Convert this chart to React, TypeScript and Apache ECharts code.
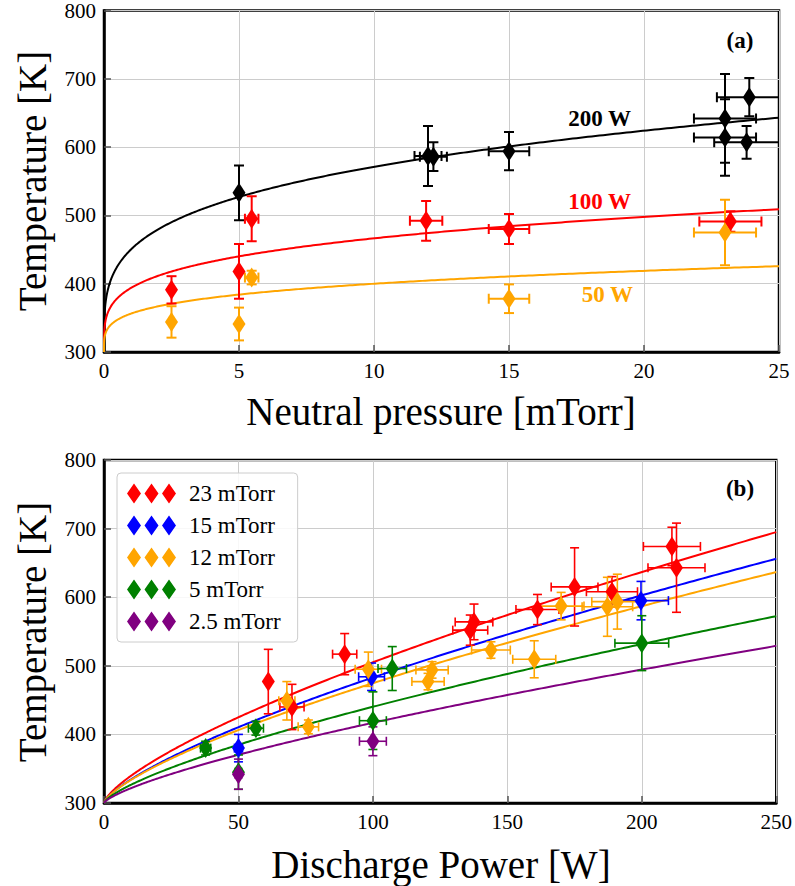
import React, { useEffect, useRef } from "react";
import * as echarts from "echarts";

// ---------- Panel (a): temperature vs neutral pressure ----------
const p200 = [5, 12.0, 12.2, 15, 23, 23, 23.9, 23.8];
const t200 = [533, 587, 586, 594, 642, 614, 673, 607];
const p200Err = [0, 0.5, 0.5, 0.75, 1.15, 1.15, 1.2, 1.2];
const t200Err = [40, 44, 21, 28, 65, 56, 28, 24];

const p100 = [2.5, 5, 5.47, 11.93, 15, 23.2];
const t100 = [391, 418, 495, 492, 480, 491];
const p100Err = [0, 0, 0.25, 0.6, 0.75, 1.15];
const t100Err = [20, 40, 33, 29, 22, 15];

const p50 = [2.5, 5, 5.47, 15, 23];
const t50 = [344, 341, 409, 378, 475];
const p50Err = [0, 0, 0.25, 0.75, 1.15];
const t50Err = [23, 24, 10, 21, 48];

// fit T = 300 + a * p^b
const fitA_a = [150.2, 93.8, 56.2];
const fitB_a = [0.2566, 0.249, 0.25];
const powerLabels = ["200 W", "100 W", "50 W"];
const powerColors = ["#000000", "#ff0000", "#ffa500"];

// ---------- Panel (b): temperature vs discharge power ----------
const pressureNames = ["23 mTorr", "15 mTorr", "12 mTorr", "5 mTorr", "2.5 mTorr"];
const pressureColors = ["#ff0000", "#0000ff", "#ffa500", "#008000", "#800080"];

const w23 = [61.1, 69.9, 89.5, 136.2, 137.6, 161.2, 175, 188.9, 211.2, 212.9];
const T23 = [477, 440, 517, 552, 564, 582, 615, 608, 674, 643];
const w23Err = [0, 4.5, 4.5, 6.5, 7, 8, 8.7, 9.5, 10.6, 10.6];
const T23Err = [47, 33, 30, 22, 26, 22, 57, 22, 28, 65];

const w15 = [50, 99.5, 199.7];
const T15 = [380, 484, 595];
const w15Err = [1.5, 4.8, 10.2];
const T15Err = [20, 20, 28];

const w12 = [68, 76, 98.3, 122, 120.5, 143.9, 160, 170, 187.2, 190.9];
const T12 = [449, 411, 495, 494, 477, 523, 509.5, 587, 586, 593.5];
const w12Err = [3, 3.8, 4.9, 6, 6, 7.2, 8, 8.5, 9.4, 9.5];
const T12Err = [28, 10, 25, 12, 12, 12, 27, 20, 43, 40];

const w5 = [37.8, 50, 56.5, 100, 107.2, 200];
const T5 = [380, 345, 409, 420, 496, 533];
const w5Err = [1.9, 1.2, 2.8, 5, 5.3, 10];
const T5Err = [10, 25, 10, 42, 32, 40];

const w25 = [50, 100];
const T25 = [342, 390];
const w25Err = [1.2, 5];
const T25Err = [22, 21];

const fitA_b = [7.62, 6.43, 6.46, 5.0, 3.98];
const fitB_b = [0.715, 0.727, 0.716, 0.724, 0.734];

const FONT = "'Liberation Serif', serif";

function fitCurve(a: number, b: number, xmax: number) {
  const pts: number[][] = [];
  const N = 300;
  for (let i = 0; i <= N; i++) {
    const x = xmax * Math.pow(i / N, 2);
    pts.push([x, 300 + a * Math.pow(x, b)]);
  }
  return pts;
}

function errRender(color: string, lw: number, cap: number) {
  return (params: any, api: any) => {
    const x = api.value(0);
    const y = api.value(1);
    const xe = api.value(2);
    const ye = api.value(3);
    const style = { stroke: color, lineWidth: lw, fill: null };
    const children: any[] = [];
    if (ye > 0) {
      const t = api.coord([x, y + ye]);
      const b = api.coord([x, y - ye]);
      children.push({ type: "line", shape: { x1: t[0], y1: t[1], x2: b[0], y2: b[1] }, style });
      children.push({ type: "line", shape: { x1: t[0] - cap, y1: t[1], x2: t[0] + cap, y2: t[1] }, style });
      children.push({ type: "line", shape: { x1: b[0] - cap, y1: b[1], x2: b[0] + cap, y2: b[1] }, style });
    }
    if (xe > 0) {
      const l = api.coord([x - xe, y]);
      const r = api.coord([x + xe, y]);
      children.push({ type: "line", shape: { x1: l[0], y1: l[1], x2: r[0], y2: r[1] }, style });
      children.push({ type: "line", shape: { x1: l[0], y1: l[1] - cap, x2: l[0], y2: l[1] + cap }, style });
      children.push({ type: "line", shape: { x1: r[0], y1: r[1] - cap, x2: r[0], y2: r[1] + cap }, style });
    }
    return { type: "group", children };
  };
}

function pack(xs: number[], ys: number[], xe: number[], ye: number[]) {
  return xs.map((x, i) => [x, ys[i], xe[i], ye[i]]);
}

const legendIcon =
  "path://M7,0L14,10L7,20L0,10Z M24.5,0L31.5,10L24.5,20L17.5,10Z M42,0L49,10L42,20L35,10Z";

function txt(text: string, x: number, y: number, size: number, color: string, align: string, bold = false, rotation = 0) {
  return {
    type: "text",
    x,
    y,
    rotation,
    style: {
      text,
      fontFamily: FONT,
      fontSize: size,
      fontWeight: bold ? "bold" : "normal",
      fill: color,
      align,
      verticalAlign: "middle",
      textAlign: align,
      textVerticalAlign: "middle",
    },
  };
}

export default function App() {
  const ref = useRef<HTMLDivElement>(null);
  useEffect(() => {
    if (!ref.current) return;
    const chart = echarts.init(ref.current, null, { renderer: "svg" });

    const axisCommon = {
      type: "value",
      axisLine: { show: true, onZero: false, lineStyle: { color: "#000", width: 2.5 } },
      axisTick: { show: true, inside: true, length: 7, lineStyle: { color: "#555", width: 1.5 } },
      axisLabel: { fontFamily: FONT, fontSize: 21, color: "#000", margin: 8 },
      splitLine: { show: true, lineStyle: { color: "#cccccc", width: 1 } },
    };

    const series: any[] = [];

    // Panel (a)
    const aSets = [
      [p200, t200, p200Err, t200Err],
      [p100, t100, p100Err, t100Err],
      [p50, t50, p50Err, t50Err],
    ];
    for (let k = 0; k < 3; k++) {
      series.push({
        type: "line",
        name: "fit-a-" + k,
        xAxisIndex: 0,
        yAxisIndex: 0,
        data: fitCurve(fitA_a[k], fitB_a[k], 25),
        showSymbol: false,
        symbol: "none",
        lineStyle: { color: powerColors[k], width: 2 },
        silent: true,
        z: 2,
      });
    }
    for (let k = 0; k < 3; k++) {
      const [xs, ys, xe, ye] = aSets[k];
      series.push({
        type: "custom",
        name: "err-a-" + k,
        xAxisIndex: 0,
        yAxisIndex: 0,
        clip: true,
        renderItem: errRender(powerColors[k], 2, 5),
        data: pack(xs, ys, xe, ye),
        encode: { x: 0, y: 1 },
        z: 3,
      });
      series.push({
        type: "scatter",
        name: powerLabels[k],
        xAxisIndex: 0,
        yAxisIndex: 0,
        symbol: "diamond",
        symbolSize: [13, 20],
        itemStyle: { color: powerColors[k], opacity: 1 },
        data: xs.map((x, i) => [x, ys[i]]),
        z: 4,
      });
    }

    // Panel (b)
    const bSets = [
      [w23, T23, w23Err, T23Err],
      [w15, T15, w15Err, T15Err],
      [w12, T12, w12Err, T12Err],
      [w5, T5, w5Err, T5Err],
      [w25, T25, w25Err, T25Err],
    ];
    for (let k = 0; k < 5; k++) {
      series.push({
        type: "line",
        name: "fit-b-" + k,
        xAxisIndex: 1,
        yAxisIndex: 1,
        data: fitCurve(fitA_b[k], fitB_b[k], 250),
        showSymbol: false,
        symbol: "none",
        lineStyle: { color: pressureColors[k], width: 2 },
        silent: true,
        z: 2,
      });
    }
    for (let k = 0; k < 5; k++) {
      const [xs, ys, xe, ye] = bSets[k];
      series.push({
        type: "custom",
        name: "err-b-" + k,
        xAxisIndex: 1,
        yAxisIndex: 1,
        clip: true,
        renderItem: errRender(pressureColors[k], 1.6, 4.5),
        data: pack(xs, ys, xe, ye),
        encode: { x: 0, y: 1 },
        z: 3,
      });
      series.push({
        type: "scatter",
        name: pressureNames[k],
        xAxisIndex: 1,
        yAxisIndex: 1,
        symbol: "diamond",
        symbolSize: [13, 20],
        itemStyle: { color: pressureColors[k], opacity: 1 },
        data: xs.map((x, i) => [x, ys[i]]),
        z: 4,
      });
    }

    const option: any = {
      animation: false,
      backgroundColor: "#ffffff",
      textStyle: { fontFamily: FONT },
      grid: [
        { left: 104, top: 9, width: 675, height: 343, show: true, borderColor: "#000", borderWidth: 2.5, backgroundColor: "transparent" },
        { left: 104, top: 460, width: 675, height: 343, show: true, borderColor: "#000", borderWidth: 2.5, backgroundColor: "transparent" },
      ],
      xAxis: [
        { ...axisCommon, gridIndex: 0, min: 0, max: 25, interval: 5 },
        { ...axisCommon, gridIndex: 1, min: 0, max: 250, interval: 50 },
      ],
      yAxis: [
        { ...axisCommon, gridIndex: 0, min: 300, max: 800, interval: 100 },
        { ...axisCommon, gridIndex: 1, min: 300, max: 800, interval: 100 },
      ],
      legend: {
        data: pressureNames.map((n) => ({ name: n, icon: legendIcon })),
        orient: "vertical",
        left: 117,
        top: 473,
        itemWidth: 49,
        itemHeight: 20,
        itemGap: 9,
        padding: [9, 17, 9, 10],
        backgroundColor: "rgba(255,255,255,0.85)",
        borderColor: "#cccccc",
        borderWidth: 1,
        borderRadius: 4,
        selectedMode: false,
        textStyle: { fontFamily: FONT, fontSize: 23, color: "#000", padding: [0, 0, 0, 8] },
      },
      graphic: [
        txt("Temperature [K]", 32, 181, 39, "#000", "center", false, Math.PI / 2),
        txt("Temperature [K]", 32, 632, 39, "#000", "center", false, Math.PI / 2),
        txt("Neutral pressure [mTorr]", 441, 411, 39, "#000", "center"),
        txt("Discharge Power [W]", 441, 864, 39, "#000", "center"),
        txt(powerLabels[0], 631, 118, 23, powerColors[0], "right", true),
        txt(powerLabels[1], 631, 201, 23, powerColors[1], "right", true),
        txt(powerLabels[2], 633, 294, 23, powerColors[2], "right", true),
        txt("(a)", 740, 40, 23, "#000", "center", true),
        txt("(b)", 740, 488, 23, "#000", "center", true),
      ],
      series,
    };

    chart.setOption(option);
    return () => chart.dispose();
  }, []);

  return (
    <div
      ref={ref}
      style={{ position: "absolute", left: 0, top: 0, width: 795, height: 886, background: "#fff" }}
    />
  );
}
